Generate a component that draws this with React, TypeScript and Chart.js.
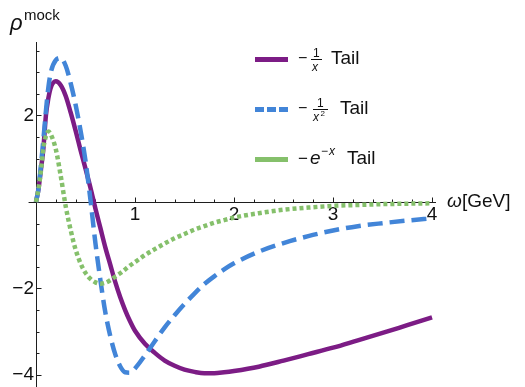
import React, { useEffect, useRef } from "react";
import { Chart, registerables } from "chart.js";

Chart.register(...registerables);

// ---- data ----
const omega = [
  0, 0.025, 0.05, 0.075, 0.1, 0.125, 0.15, 0.2, 0.25, 0.3, 0.35, 0.4, 0.45, 0.5,
  0.55, 0.6, 0.65, 0.7, 0.75, 0.8, 0.85, 0.9, 0.95, 1.0, 1.1, 1.2, 1.3, 1.4, 1.5,
  1.6, 1.7, 1.8, 1.9, 2.0, 2.25, 2.5, 2.75, 3.0, 3.25, 3.5, 3.75, 4.0,
];

const inverseTail = [
  0, 0.3, 0.75, 1.25, 2.0, 2.4, 2.65, 2.79, 2.7, 2.45, 2.07, 1.65, 1.2, 0.77,
  0.33, -0.15, -0.6, -1.05, -1.45, -1.85, -2.2, -2.5, -2.76, -2.98, -3.28, -3.49,
  -3.67, -3.79, -3.88, -3.93, -3.96, -3.96, -3.94, -3.91, -3.81, -3.67, -3.52,
  -3.37, -3.2, -3.03, -2.85, -2.67,
];

const inverseSquareTail = [
  0, 0.3, 0.85, 1.45, 2.1, 2.65, 3.0, 3.28, 3.33, 3.15, 2.75, 2.25, 1.65, 0.95,
  0.05, -0.95, -1.8, -2.55, -3.1, -3.52, -3.8, -3.94, -3.95, -3.85, -3.55, -3.22,
  -2.9, -2.62, -2.36, -2.12, -1.9, -1.72, -1.56, -1.42, -1.15, -0.95, -0.79,
  -0.66, -0.56, -0.49, -0.43, -0.38,
];

const expTail = [
  0, 0.3, 0.72, 1.25, 1.52, 1.63, 1.56, 1.22, 0.6, -0.1, -0.65, -1.1, -1.42,
  -1.64, -1.78, -1.86, -1.89, -1.87, -1.81, -1.73, -1.65, -1.56, -1.47, -1.39,
  -1.23, -1.09, -0.96, -0.84, -0.74, -0.64, -0.56, -0.48, -0.42, -0.36, -0.26,
  -0.18, -0.13, -0.09, -0.07, -0.05, -0.04, -0.03,
];

const xTickValues = [
  0.2, 0.4, 0.6, 0.8, 1, 1.2, 1.4, 1.6, 1.8, 2, 2.2, 2.4, 2.6, 2.8, 3, 3.2, 3.4,
  3.6, 3.8, 4,
];
const xTickLabels = [1, 2, 3, 4];
const yTickValues = [
  -4, -3.5, -3, -2.5, -2, -1.5, -1, -0.5, 0.5, 1, 1.5, 2, 2.5, 3, 3.5,
];
const yTickLabels = [-4, -2, 2];

const X_MIN = 0;
const X_MAX = 4.04;
const X_AXIS_START = -0.075;
const Y_MIN = -4.28;
const Y_MAX = 3.7;

const FONT = "'Liberation Sans', Arial, Helvetica, sans-serif";
const PURPLE = "#7c1c85";
const BLUE = "#4285d8";
const GREEN = "#85c06b";
const AXIS = "#1e1e1e";

const fmt = (v: number) => (v < 0 ? "\u2212" + Math.abs(v) : String(v));

const axesPlugin = {
  id: "mmaAxes",
  beforeDatasetsDraw(chart: any) {
    const { ctx } = chart;
    const xs = chart.scales.x;
    const ys = chart.scales.y;
    const y0 = Math.round(ys.getPixelForValue(0)) + 0.5;
    const x0 = Math.round(xs.getPixelForValue(0)) + 0.5;
    ctx.save();
    ctx.strokeStyle = AXIS;
    ctx.lineWidth = 1;
    ctx.beginPath();
    ctx.moveTo(xs.getPixelForValue(X_AXIS_START), y0);
    ctx.lineTo(xs.getPixelForValue(X_MAX), y0);
    ctx.moveTo(x0, ys.getPixelForValue(Y_MAX));
    ctx.lineTo(x0, ys.getPixelForValue(Y_MIN));
    xTickValues.forEach((v) => {
      const px = Math.round(xs.getPixelForValue(v)) + 0.5;
      const len = xTickLabels.includes(v) ? 5 : 3;
      ctx.moveTo(px, y0);
      ctx.lineTo(px, y0 - len);
    });
    yTickValues.forEach((v) => {
      const py = Math.round(ys.getPixelForValue(v)) + 0.5;
      const len = yTickLabels.includes(v) ? 5 : 3;
      ctx.moveTo(x0, py);
      ctx.lineTo(x0 + len, py);
    });
    ctx.stroke();
    ctx.restore();
  },
};

function T(props: {
  left: number;
  baseline: number;
  size: number;
  italic?: boolean;
  children: React.ReactNode;
}) {
  const { left, baseline, size, italic, children } = props;
  return (
    <span
      style={{
        position: "absolute",
        left,
        top: baseline - 0.8465 * size,
        fontSize: size,
        lineHeight: `${size}px`,
        fontFamily: FONT,
        fontStyle: italic ? "italic" : "normal",
        color: "#111",
        whiteSpace: "nowrap",
      }}
    >
      {children}
    </span>
  );
}

function Bar(props: { left: number; top: number; width: number }) {
  return (
    <div
      style={{
        position: "absolute",
        left: props.left,
        top: props.top,
        width: props.width,
        height: 1,
        background: "#111",
      }}
    />
  );
}

function Swatch(props: { top: number; color: string; dashed?: boolean }) {
  const { top, color, dashed } = props;
  return (
    <div
      style={{
        position: "absolute",
        left: 255,
        top: top - 2.5,
        width: 33,
        height: 5,
        background: dashed
          ? `repeating-linear-gradient(to right, ${color} 0px, ${color} 9.5px, transparent 9.5px, transparent 12px)`
          : color,
      }}
    />
  );
}

export default function App() {
  const canvasRef = useRef<HTMLCanvasElement | null>(null);

  useEffect(() => {
    const canvas = canvasRef.current;
    if (!canvas) return;
    const toPts = (ys: number[]) => omega.map((x, i) => ({ x, y: ys[i] }));
    const chart = new Chart(canvas, {
      type: "line",
      data: {
        datasets: [
          {
            label: "-1/x Tail",
            data: toPts(inverseTail),
            borderColor: PURPLE,
            borderWidth: 4.5,
            pointRadius: 0,
            cubicInterpolationMode: "monotone",
            borderCapStyle: "butt",
            borderJoinStyle: "round",
            order: 3,
            clip: false,
          },
          {
            label: "-1/x^2 Tail",
            data: toPts(inverseSquareTail),
            borderColor: BLUE,
            borderWidth: 4.5,
            borderDash: [15, 7],
            pointRadius: 0,
            cubicInterpolationMode: "monotone",
            borderCapStyle: "butt",
            order: 2,
            clip: false,
          },
          {
            label: "-e^-x Tail",
            data: toPts(expTail),
            borderColor: GREEN,
            borderWidth: 4.5,
            borderDash: [4, 3],
            pointRadius: 0,
            cubicInterpolationMode: "monotone",
            borderCapStyle: "butt",
            order: 1,
            clip: false,
          },
        ],
      },
      options: {
        animation: false,
        responsive: false,
        devicePixelRatio: 1,
        layout: { padding: { left: 0, right: 89, top: 42, bottom: 0 } },
        plugins: {
          legend: { display: false },
          tooltip: { enabled: false },
        },
        scales: {
          x: {
            type: "linear",
            min: X_MIN,
            max: X_MAX,
            position: { y: 0 } as any,
            afterFit: (s: any) => {
              s.height = 0;
              s.paddingLeft = 0;
              s.paddingRight = 0;
              s.paddingTop = 0;
              s.paddingBottom = 0;
            },
            afterBuildTicks: (s: any) => {
              s.ticks = xTickValues.map((v) => ({ value: v }));
            },
            grid: { display: false, drawTicks: false },
            border: { display: false },
            ticks: {
              autoSkip: false,
              maxRotation: 0,
              padding: 1,
              color: "#111",
              font: { family: FONT, size: 19 },
              callback: (v: any) => (xTickLabels.includes(Number(v)) ? fmt(Number(v)) : ""),
            },
          },
          y: {
            type: "linear",
            min: Y_MIN,
            max: Y_MAX,
            position: "left",
            afterFit: (s: any) => {
              s.width = 36;
              s.paddingLeft = 0;
              s.paddingRight = 0;
              s.paddingTop = 0;
              s.paddingBottom = 0;
            },
            afterBuildTicks: (s: any) => {
              s.ticks = yTickValues.map((v) => ({ value: v }));
            },
            grid: { display: false, drawTicks: false },
            border: { display: false },
            ticks: {
              autoSkip: false,
              padding: 2,
              color: "#111",
              font: { family: FONT, size: 19 },
              callback: (v: any) => (yTickLabels.includes(Number(v)) ? fmt(Number(v)) : ""),
            },
          },
        },
      },
      plugins: [axesPlugin],
    });
    return () => chart.destroy();
  }, []);

  return (
    <div
      style={{
        position: "absolute",
        left: 0,
        top: 0,
        width: 525,
        height: 387,
        background: "#fff",
        overflow: "hidden",
      }}
    >
      <canvas
        ref={canvasRef}
        width={525}
        height={387}
        style={{ position: "absolute", left: 0, top: 0, width: 525, height: 387 }}
      />
      {/* axis labels */}
      <T left={10} baseline={31} size={22} italic>
        ρ
      </T>
      <T left={24} baseline={20} size={15}>
        mock
      </T>
      <T left={447} baseline={207} size={19} italic>
        ω
      </T>
      <T left={462} baseline={207} size={19}>
        [GeV]
      </T>

      {/* legend */}
      <Swatch top={59.5} color={PURPLE} />
      <T left={298} baseline={64} size={16}>
        −
      </T>
      <T left={313} baseline={57} size={12}>
        1
      </T>
      <Bar left={311} top={59} width={11} />
      <T left={312} baseline={71} size={12} italic>
        x
      </T>
      <T left={331} baseline={64.5} size={19}>
        Tail
      </T>

      <Swatch top={109.5} color={BLUE} dashed />
      <T left={298} baseline={114} size={16}>
        −
      </T>
      <T left={317} baseline={107} size={12}>
        1
      </T>
      <Bar left={313} top={109} width={15} />
      <T left={313} baseline={121} size={12} italic>
        x
      </T>
      <T left={320.5} baseline={116.5} size={8}>
        2
      </T>
      <T left={340} baseline={114.5} size={19}>
        Tail
      </T>

      <Swatch top={159.5} color={GREEN} />
      <T left={298} baseline={164.5} size={17}>
        −
      </T>
      <T left={310} baseline={164.5} size={19} italic>
        e
      </T>
      <T left={321} baseline={155} size={12}>
        −
      </T>
      <T left={329} baseline={155} size={12} italic>
        x
      </T>
      <T left={347} baseline={164.5} size={19}>
        Tail
      </T>
    </div>
  );
}
